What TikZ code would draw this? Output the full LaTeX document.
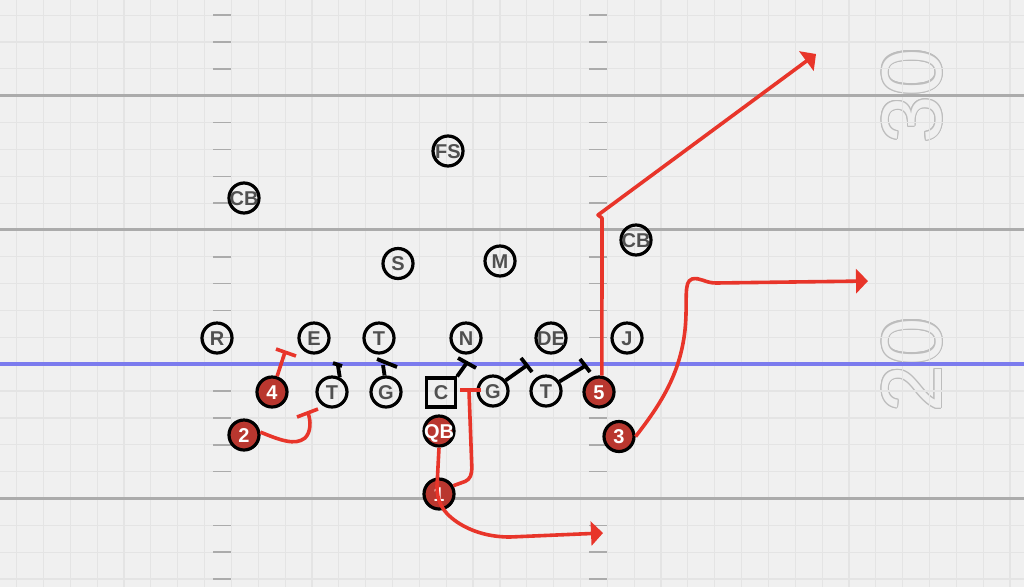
\documentclass[tikz,border=0pt]{standalone}
\usepackage{fontspec}
\setmainfont{Liberation Sans}
\usetikzlibrary{arrows.meta}
\definecolor{bg}{HTML}{F0F0F0}
\definecolor{gridc}{HTML}{E4E4E4}
\definecolor{yardc}{HTML}{ABABAB}
\definecolor{losc}{HTML}{7B7BEE}
\definecolor{routec}{HTML}{E8352A}
\definecolor{offc}{HTML}{B9372F}
\definecolor{labc}{HTML}{505050}
\definecolor{numc}{HTML}{BDBDBD}
\begin{document}
\begin{tikzpicture}[x=1pt,y=-1pt,
  defp/.style={circle,draw=black,line width=3.2pt,minimum size=30pt,inner sep=0pt},
  offp/.style={circle,draw=black,line width=3.2pt,minimum size=30pt,inner sep=0pt,fill=offc},
  ctr/.style={rectangle,draw=black,line width=3.2pt,minimum size=29pt,inner sep=0pt},
  deflab/.style={font=\fontsize{20}{20}\selectfont\bfseries,text=labc,inner sep=0pt,text height=14.3pt,text depth=0pt},
  offlab/.style={font=\fontsize{20}{20}\selectfont\bfseries,text=white,inner sep=0pt,text height=14.3pt,text depth=0pt},
  route/.style={draw=routec,line width=3.6pt,line join=round},
  rbar/.style={draw=routec,line width=3.6pt},
  blk/.style={draw=black,line width=3.8pt},
  rarrow/.style={-{Triangle[length=12pt,width=24pt]}},
  gridline/.style={draw=gridc,line width=1.2pt},
  yard/.style={draw=yardc,line width=3pt},
  los/.style={draw=losc,line width=3.5pt},
  hash/.style={draw=yardc,line width=1.5pt},
  numtxt/.style={font=\fontsize{85}{85}\selectfont,rotate=90,inner sep=0pt}
]
\useasboundingbox (0,0) rectangle (1024,587);
\fill[bg] (0,0) rectangle (1024,587);

% yard numbers (outlined)
\foreach \a in {0,30,...,330} {
  \node[numtxt,text=numc] at ([shift={(\a:1.2)}]912,96) {30};
  \node[numtxt,text=numc] at ([shift={(\a:1.2)}]912,365) {20};
}
\node[numtxt,text=bg] (n30) at (912,96) {30};
\node[numtxt,text=bg] (n20) at (912,365) {20};

% grid
\foreach \k in {0,...,37} \draw[gridline] ({16.6+26.85*\k},0) -- ({16.6+26.85*\k},587);
\foreach \j in {-3,...,18} \draw[gridline] (0,{95.7+26.85*\j}) -- (1024,{95.7+26.85*\j});

% hash marks
\foreach \j in {-3,-2,-1,1,2,3,4,6,7,8,9,11,12,13,14,16,17,18} {
  \draw[hash] (213.4,{95.7+26.85*\j}) -- (231.4,{95.7+26.85*\j});
  \draw[hash] (589.3,{95.7+26.85*\j}) -- (607.3,{95.7+26.85*\j});
}

% yard lines
\draw[yard] (0,95.7) -- (1024,95.7);
\draw[yard] (0,229.95) -- (1024,229.95);
\draw[yard] (0,498.45) -- (1024,498.45);
\draw[los] (0,364.2) -- (1024,364.2);

% defense
\node[defp,label={[deflab]center:R}] (r) at (217,338) {};
\node[defp,label={[deflab]center:E}] (e) at (314,338) {};
\node[defp,label={[deflab]center:T}] (td) at (379,338) {};
\node[defp,label={[deflab]center:N}] (n) at (466,338) {};
\node[defp,label={[deflab]center:DE}] (de) at (551,338) {};
\node[defp,label={[deflab]center:J}] (j) at (627,338) {};
\node[defp,label={[deflab]center:CB}] (cbl) at (244,198) {};
\node[defp,label={[deflab]center:FS}] (fs) at (448,151) {};
\node[defp,label={[deflab]center:S}] (s) at (398,263.5) {};
\node[defp,label={[deflab]center:M}] (m) at (500,261) {};
\node[defp,label={[deflab]center:CB}] (cbr) at (636,240) {};

% offense
\node[offp,label={[offlab]center:4}] (p4) at (272,392) {};
\node[defp,label={[deflab]center:T}] (tk) at (332,392) {};
\node[defp,label={[deflab]center:G}] (gk) at (386,392) {};
\node[ctr,label={[deflab]center:C}] (c) at (441,392.5) {};
\node[defp,label={[deflab]center:G}] (g2) at (493,391) {};
\node[defp,label={[deflab]center:T}] (t2) at (546,391) {};
\node[offp,label={[offlab]center:5}] (p5) at (599,392) {};
\node[offp,label={[offlab]center:2}] (p2) at (244,435) {};
\node[offp,label={[offlab]center:QB}] (qb) at (439,431) {};
\node[offp,label={[offlab]center:3}] (p3) at (619,436.5) {};
\node[offp,label={[offlab]center:1}] (p1) at (439,494) {};

% end points
\coordinate (b4) at (285,352);
\coordinate (btk) at (338,366);
\coordinate (bgk) at (383,365);
\coordinate (bc) at (466,364);
\coordinate (bg2) at (526,366);
\coordinate (bt2) at (585,366);
\coordinate (r2end) at (308,413);
\coordinate (r1end) at (469,391);
\coordinate (qbend) at (603,533);
\coordinate (r3end) at (868,281);
\coordinate (r5end) at (816,54);

% line blocks (black)
\draw[blk] (tk.62) -- (btk); \draw[blk] (333,363) -- (342,366);
\draw[blk] (gk.95) -- (bgk); \draw[blk] (377,359) -- (397,367);
\draw[blk] (c.north east) -- (bc); \draw[blk] (458,358) -- (476,368);
\draw[blk] (g2.40) -- (bg2); \draw[blk] (521,358) -- (532,372);
\draw[blk] (t2.35) -- (bt2); \draw[blk] (580,359) -- (590,372);

% red blocks
\draw[route] (p4.72) -- (b4); \draw[rbar] (276,349) -- (296,356);
\draw[route] (p2.10) .. controls (280,440) and (295,446) .. (305,438)
   .. controls (311,432) and (311,421) .. (r2end);
\draw[rbar] (297,417) -- (318,409);
\draw[route,rounded corners=4pt] (p1.30) -- (469,480) -- (472,472) -- (r1end);
\draw[rbar] (460,390) -- (481,390);

% routes with arrows
\draw[route,rarrow] (qb.south) -- (437,486) .. controls (437,500) and (441,511) .. (457,522)
   .. controls (472,532) and (490,537) .. (510,537) -- (qbend);
\draw[route,rarrow] (p3.0) .. controls (660,405) and (680,375) .. (685,330)
   .. controls (688,300) and (683,282) .. (692,279)
   .. controls (700,277) and (705,283) .. (716,283) -- (r3end);
\draw[route,rarrow] (p5.80) -- (602,218) -- (598,215) -- (r5end);
\end{tikzpicture}
\end{document}
